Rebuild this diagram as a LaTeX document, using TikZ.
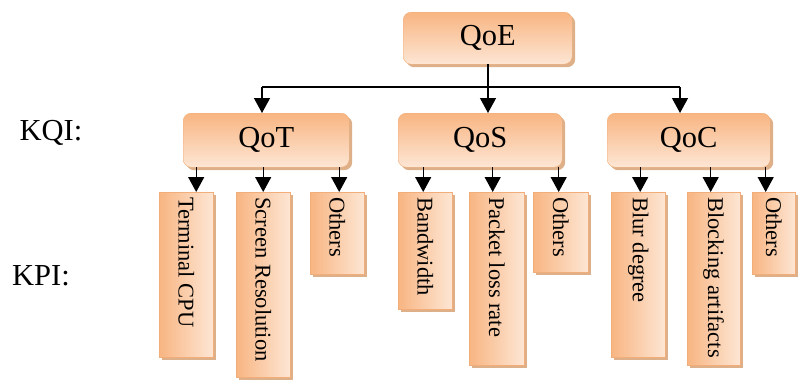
\documentclass[tikz,border=0pt]{standalone}
\usepackage{fontspec}
\setmainfont{Liberation Serif}
\usetikzlibrary{arrows.meta,shadows,calc}
\definecolor{peachdark}{HTML}{F8B582}
\definecolor{peachlight}{HTML}{FDE6D4}
\definecolor{peachedge}{HTML}{F2AE7A}
\definecolor{shadowtan}{HTML}{D9A77C}
\tikzset{
  kqibox/.style={rectangle, rounded corners=8pt, draw=peachedge, line width=0.4pt,
    top color=peachdark, bottom color=peachlight, inner sep=0pt, anchor=north west,
    drop shadow={shadow xshift=3pt, shadow yshift=-3pt, fill=shadowtan, opacity=0.9}},
  kpibox/.style={rectangle, draw=peachedge, line width=0.4pt,
    left color=peachdark, right color=peachlight, inner sep=0pt, anchor=north west,
    drop shadow={shadow xshift=3pt, shadow yshift=-3pt, fill=shadowtan, opacity=0.9}},
  bigtxt/.style={font=\fontsize{30.5}{32}\selectfont, inner sep=0pt},
  vtxt/.style={font=\fontsize{22.5}{24}\selectfont, inner sep=0pt, rotate=-90, anchor=west},
  arr/.style={line width=1.3pt, -{Triangle[width=16pt,length=15pt]}},
  bar/.style={line width=1.3pt}
}
\begin{document}
\begin{tikzpicture}[x=1pt,y=-1pt]
\useasboundingbox (0,0) rectangle (799,380);
% top level
\node[kqibox, minimum width=169pt, minimum height=52pt] (QoE) at (403,12) {};
\node[bigtxt] (QoEt) at (QoE.center) {QoE};
% KQI level
\node[kqibox, minimum width=166pt, minimum height=54pt] (QoT) at (183,113) {};
\node[bigtxt] (QoTt) at (QoT.center) {QoT};
\node[kqibox, minimum width=164pt, minimum height=54pt] (QoS) at (398,113) {};
\node[bigtxt] (QoSt) at (QoS.center) {QoS};
\node[kqibox, minimum width=163pt, minimum height=54pt] (QoC) at (607,113) {};
\node[bigtxt] (QoCt) at (QoC.center) {QoC};
% side labels
\node[bigtxt] (KQI) at (51,133) {KQI:};
\node[bigtxt] (KPI) at (41,276) {KPI:};
% KPI boxes
\node[kpibox, minimum width=54pt, minimum height=165pt] (T1) at (159,192) {};
\node[kpibox, minimum width=54pt, minimum height=185pt] (T2) at (236,192) {};
\node[kpibox, minimum width=54pt, minimum height=82pt] (T3) at (310,192) {};
\node[kpibox, minimum width=54pt, minimum height=117pt] (S1) at (398,192) {};
\node[kpibox, minimum width=55pt, minimum height=173pt] (S2) at (469,192) {};
\node[kpibox, minimum width=55pt, minimum height=80pt] (S3) at (533,192) {};
\node[kpibox, minimum width=54pt, minimum height=165pt] (C1) at (611,192) {};
\node[kpibox, minimum width=53pt, minimum height=173pt] (C2) at (687,192) {};
\node[kpibox, minimum width=43pt, minimum height=82pt] (C3) at (752,192) {};
% vertical texts
\node[vtxt] (T1t) at ($(T1.north)+(0,5)$) {Terminal CPU};
\node[vtxt] (T2t) at ($(T2.north)+(0,5)$) {Screen Resolution};
\node[vtxt] (T3t) at ($(T3.north)+(0,5)$) {Others};
\node[vtxt] (S1t) at ($(S1.north)+(0,5)$) {Bandwidth};
\node[vtxt] (S2t) at ($(S2.north)+(0,5)$) {Packet loss rate};
\node[vtxt] (S3t) at ($(S3.north)+(0,5)$) {Others};
\node[vtxt] (C1t) at ($(C1.north)+(0,5)$) {Blur degree};
\node[vtxt] (C2t) at ($(C2.north)+(0,5)$) {Blocking artifacts};
\node[vtxt] (C3t) at ($(C3.north)+(0,5)$) {Others};
% connectors top
\coordinate (hub) at (488,87);
\coordinate (hubL) at (262,87);
\coordinate (hubR) at (680,87);
\draw[bar] (hubL) -- (hubR);
\draw[arr] (hub |- QoE.south) -- (hub |- QoS.north);
\draw[arr] (hubL) -- (hubL |- QoT.north);
\draw[arr] (hubR) -- (hubR |- QoC.north);
% connectors to KPIs
\draw[arr] ([xshift=10pt]T1.north |- QoT.south) -- ([xshift=10pt]T1.north);
\draw[arr] (T2.north |- QoT.south) -- (T2.north);
\draw[arr] ([xshift=2pt]T3.north |- QoT.south) -- ([xshift=2pt]T3.north);
\draw[arr] ([xshift=-2pt]S1.north |- QoS.south) -- ([xshift=-2pt]S1.north);
\draw[arr] ([xshift=-4pt]S2.north |- QoS.south) -- ([xshift=-4pt]S2.north);
\draw[arr] ([xshift=-2pt]S3.north |- QoS.south) -- ([xshift=-2pt]S3.north);
\draw[arr] ([xshift=2pt]C1.north |- QoC.south) -- ([xshift=2pt]C1.north);
\draw[arr] ([xshift=-3pt]C2.north |- QoC.south) -- ([xshift=-3pt]C2.north);
\draw[arr] ([xshift=-8pt]C3.north |- QoC.south) -- ([xshift=-8pt]C3.north);
\end{tikzpicture}
\end{document}
